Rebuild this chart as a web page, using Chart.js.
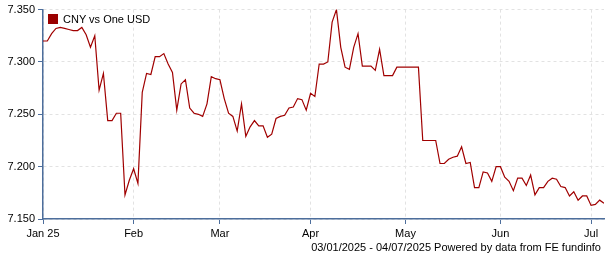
<!DOCTYPE html>
<html>
<head>
<meta charset="utf-8">
<script src="https://cdn.jsdelivr.net/npm/chart.js@4/dist/chart.umd.min.js"></script>
<style>
  body { margin: 0; background: #fff; }
  #wrap { position: relative; width: 605px; height: 260px; font-family: "Liberation Sans", Arial, sans-serif; font-size: 11px; color: #000; }
  #legenda { position: absolute; left: 48px; top: 13px; line-height: 12px; white-space: nowrap; }
  #legenda span { display: inline-block; width: 10px; height: 10px; background: #9b0000; vertical-align: -1px; margin-right: 5px; }
  #rodape { position: absolute; right: 4px; top: 241px; white-space: nowrap; }
</style>
</head>
<body>
<div id="wrap">
  <canvas id="grafico" width="605" height="260"></canvas>
  <div id="legenda"><span></span>CNY vs One USD</div>
  <div id="rodape">03/01/2025 - 04/07/2025 Powered by data from FE fundinfo</div>
</div>
<script>
// CNY por USD, um ponto por dia útil (03/01/2025 - 04/07/2025)
const cny = [
  7.320, 7.320, 7.327, 7.332, 7.333, 7.332, 7.331, 7.330, 7.330, 7.333,
  7.326, 7.314, 7.325, 7.273, 7.289, 7.244, 7.244, 7.251, 7.251, 7.173,
  7.187, 7.198, 7.184, 7.271, 7.289, 7.288, 7.305, 7.305, 7.308, 7.298,
  7.290, 7.254, 7.279, 7.283, 7.256, 7.251, 7.250, 7.248, 7.260, 7.286,
  7.284, 7.283, 7.265, 7.251, 7.248, 7.234, 7.260, 7.229, 7.238, 7.244,
  7.239, 7.239, 7.228, 7.231, 7.246, 7.248, 7.249, 7.256, 7.257, 7.265,
  7.264, 7.254, 7.270, 7.267, 7.298, 7.298, 7.300, 7.338, 7.350, 7.314,
  7.295, 7.293, 7.314, 7.327, 7.296, 7.296, 7.296, 7.292, 7.312, 7.287,
  7.287, 7.287, 7.295, 7.295, 7.295, 7.295, 7.295, 7.295, 7.225, 7.225,
  7.225, 7.225, 7.203, 7.203, 7.207, 7.209, 7.210, 7.219, 7.203, 7.204,
  7.180, 7.180, 7.195, 7.194, 7.186, 7.200, 7.200, 7.190, 7.186, 7.177,
  7.189, 7.189, 7.182, 7.192, 7.173, 7.180, 7.180, 7.186, 7.189, 7.188,
  7.181, 7.180, 7.172, 7.176, 7.168, 7.172, 7.172, 7.163, 7.164, 7.168,
  7.165
];

// rótulos dos meses e o índice do primeiro dia útil de cada um
const mesLabels = ["Jan 25", "Feb", "Mar", "Apr", "May", "Jun", "Jul"];
const mesIdx = [0, 21, 41, 62, 84, 106, 127];

const yTicks = [7.150, 7.200, 7.250, 7.300, 7.350];

const corEixo = "#4d6e9c";
const corGrade = "#e2e2e2";

Chart.defaults.font.family = "'Liberation Sans', Arial, sans-serif";
Chart.defaults.font.size = 11;
Chart.defaults.color = "#000";

new Chart(document.getElementById("grafico"), {
  type: "line",
  data: {
    datasets: [{
      label: "CNY vs One USD",
      data: cny.map((v, i) => ({ x: i, y: v })),
      borderColor: "#a00000",
      borderWidth: 1.2,
      pointRadius: 0,
      tension: 0,
      fill: false
    }]
  },
  options: {
    responsive: false,
    animation: false,
    layout: { padding: { top: 9, right: 1, left: 0, bottom: 0 } },
    plugins: { legend: { display: false }, tooltip: { enabled: false } },
    scales: {
      x: {
        type: "linear",
        min: 0,
        max: cny.length - 1,
        afterBuildTicks: s => { s.ticks = mesIdx.map(v => ({ value: v })); },
        afterFit: s => { s.height = 41; },
        ticks: {
          autoSkip: false,
          maxRotation: 0,
          padding: 3,
          callback: (v, i) => mesLabels[i]
        },
        grid: { color: corGrade, tickColor: corEixo, tickLength: 5, tickBorderDash: [] },
        border: { color: corEixo, width: 1.5, dash: [3, 3] }
      },
      y: {
        min: yTicks[0],
        max: yTicks[yTicks.length - 1],
        afterBuildTicks: s => { s.ticks = yTicks.map(v => ({ value: v })); },
        afterFit: s => { s.width = 43; },
        ticks: { padding: 3, callback: v => v.toFixed(3) },
        grid: { color: corGrade, tickColor: corEixo, tickLength: 5, tickBorderDash: [] },
        border: { color: corEixo, width: 1.5, dash: [3, 3] }
      }
    }
  }
});
</script>
</body>
</html>
